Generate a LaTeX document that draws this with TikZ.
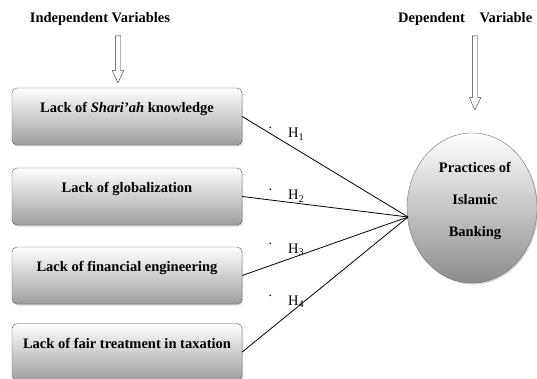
\documentclass[tikz,border=0pt]{standalone}
\usepackage{fontspec}
\setmainfont{Liberation Serif}
\usetikzlibrary{shapes.geometric,shapes.arrows,shadows}

\tikzset{
  varhead/.style={inner sep=0pt, font=\fontsize{14.5}{17}\selectfont\bfseries},
  factor/.style={draw=black!65, rounded corners=5pt, top color=white, bottom color=black!38,
    minimum width=230pt, inner sep=0pt, text height=24.5pt, text depth=32.5pt,
    font=\fontsize{14.5}{17}\selectfont\bfseries,
    drop shadow={opacity=0.35, shadow xshift=1.2pt, shadow yshift=-1.5pt}},
  outcome/.style={ellipse, draw=black!55, top color=white, bottom color=black!45,
    minimum width=130pt, minimum height=150pt, inner sep=0pt,
    drop shadow={opacity=0.35, shadow xshift=1.2pt, shadow yshift=-1.5pt}},
  outtext/.style={align=center, inner sep=0pt, font=\fontsize{14.5}{17}\selectfont\bfseries},
  hollow/.style={single arrow, draw=black!80, fill=white, rotate=-90, inner sep=2.5pt,
    single arrow head extend=3pt, single arrow tip angle=50},
  hyp/.style={inner sep=0pt, font=\fontsize{14.5}{17}\selectfont},
  link/.style={line width=0.8pt}
}

\begin{document}
\begin{tikzpicture}[x=1pt,y=-1pt]
\useasboundingbox (0,0) rectangle (537,379);

\node[varhead] (indep) at (100,19) {Independent Variables};
\node[varhead,anchor=west] (dep) at (398,19) {Dependent\hspace{14.5pt}Variable};

\node[hollow,minimum height=47pt] (arrL) at (118,56.5) {};
\node[hollow,minimum height=74pt] (arrR) at (475,70) {};

\node[outcome] (bank) at (472,208) {};
\node[outtext] (banktxt) at (475,201) {Practices of\\[15pt]Islamic\\[15pt]Banking};
\coordinate (hub) at (408,217);

\foreach \i/\y/\hy/\txt in {1/116.5/138/{Lack of \textit{Shari’ah} knowledge},
  2/196.5/200/{Lack of globalization},
  3/275.5/253/{Lack of financial engineering},
  4/352/305/{Lack of fair treatment in taxation}}
{
\node[factor] (f\i) at (127,\y) {\txt};
\draw[link] (f\i.east) -- (hub);
\node[hyp,anchor=base west] (h\i) at (268.5,\hy) {\raisebox{9pt}{.}\hspace{15.9pt}H\textsubscript{\i}};
}
\end{tikzpicture}
\end{document}
